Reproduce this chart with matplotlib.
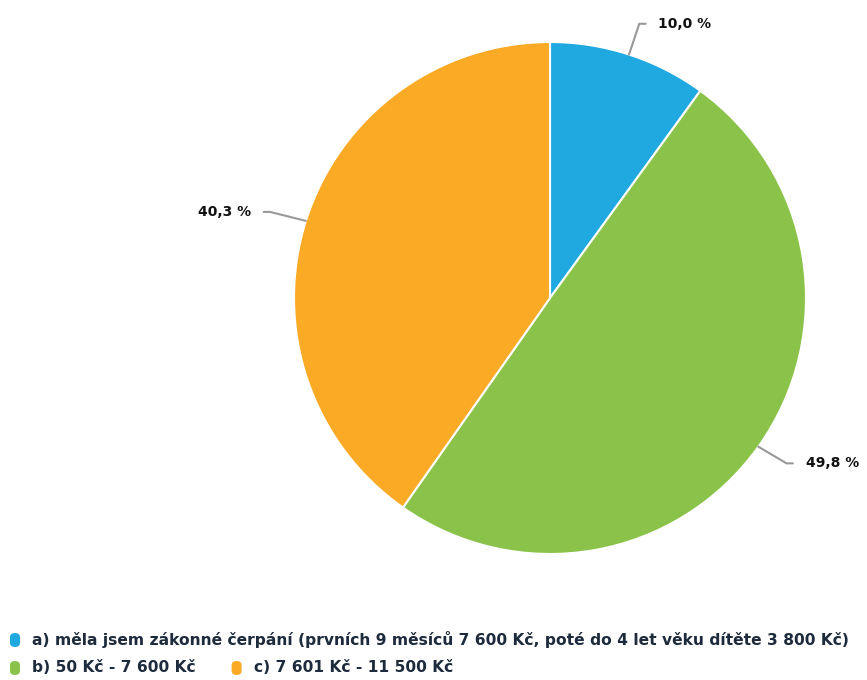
import matplotlib
matplotlib.use("Agg")
import matplotlib.pyplot as plt
import numpy as np
from matplotlib.patches import FancyBboxPatch

categories = [
    "a) měla jsem zákonné čerpání (prvních 9 měsíců 7 600 Kč, poté do 4 let věku dítěte 3 800 Kč)",
    "b) 50 Kč - 7 600 Kč",
    "c) 7 601 Kč - 11 500 Kč",
]
values = [10.0, 49.8, 40.3]
labels = ["10,0 %", "49,8 %", "40,3 %"]
colors = ["#20a8e0", "#8bc34a", "#fbaa26"]

plt.rcParams['font.family'] = ['DejaVu Sans']

W, H = 867, 680
fig = plt.figure(figsize=(W / 100, H / 100), dpi=100)
cx, cy, r = 550, 298, 256
ax = fig.add_axes([(cx - r) / W, (H - cy - r) / H, 2 * r / W, 2 * r / H])

wedges, _ = ax.pie(values, colors=colors, startangle=90, counterclock=False,
                   radius=1, wedgeprops=dict(edgecolor='white', linewidth=1.5))
ax.set_xlim(-1, 1)
ax.set_ylim(-1, 1)
ax.set_aspect('equal')
ax.axis('off')

fig.canvas.draw()
renderer = fig.canvas.get_renderer()

def fit_size(text, target_px, base=10):
    t = fig.text(0, 0, text, fontsize=base, fontweight='bold')
    w = t.get_window_extent(renderer).width
    t.remove()
    return base * target_px / w

lab_fs = fit_size(labels[0], 53)
leg_fs = fit_size(categories[0], 822)

# label placements (elbow point offsets in axes units) per slice
elbow = [(0.04, 0.12), (0.11, -0.065), (-0.14, 0.035)]
for w, lab, (dx, dy) in zip(wedges, labels, elbow):
    ang = np.deg2rad((w.theta1 + w.theta2) / 2)
    x0, y0 = np.cos(ang), np.sin(ang)
    x1, y1 = x0 + dx, y0 + dy
    side = 1 if x0 > 0 else -1
    x2 = x1 + side * 0.025
    ax.plot([x0, x1, x2], [y0, y1, y1], color="#999999", lw=1.5,
            solid_capstyle='round', clip_on=False)
    ax.text(x2 + side * 0.05, y1, lab, ha='left' if side > 0 else 'right',
            va='center', fontsize=lab_fs, fontweight='bold', color='#111111')

# legend, flow layout
legend_color = "#1d2b3c"
rows = [[0], [1, 2]]
row_y = [640, 668]
for ri, row in enumerate(rows):
    x = 10
    for idx in row:
        y = row_y[ri]
        mk = FancyBboxPatch(((x) / W, (H - y - 7) / H), 10 / W, 14 / H,
                            boxstyle="round,pad=0,rounding_size=0.006",
                            transform=fig.transFigure, facecolor=colors[idx],
                            edgecolor='none')
        fig.add_artist(mk)
        t = fig.text((x + 22) / W, (H - y) / H, categories[idx], fontsize=leg_fs,
                     fontweight='bold', color=legend_color, va='center', ha='left')
        bb = t.get_window_extent(renderer)
        x = x + 22 + bb.width + 36

fig.savefig("out.png", dpi=100, facecolor='white')
